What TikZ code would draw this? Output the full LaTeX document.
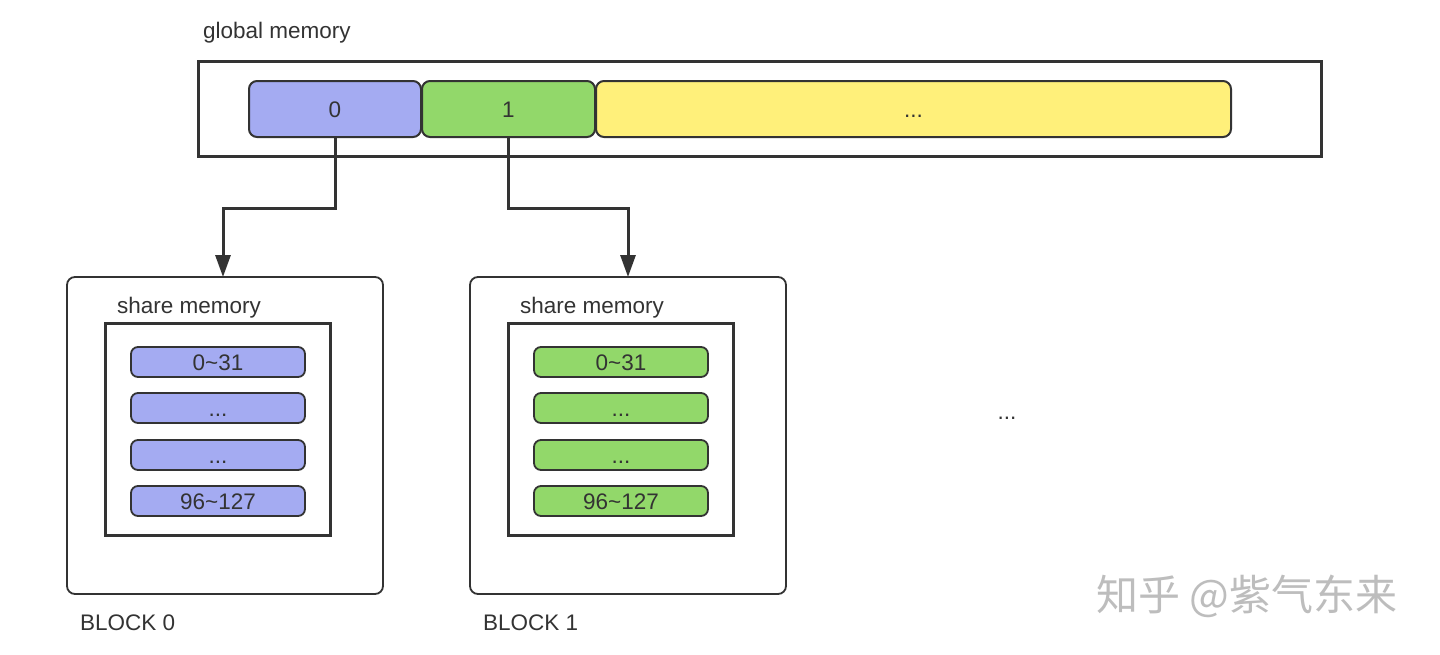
\documentclass[tikz,border=0pt]{standalone}
\usepackage{fontspec}
\setmainfont{Liberation Sans}
\newfontfamily\cjk{Noto Sans CJK SC}
\usetikzlibrary{arrows.meta}
\definecolor{ink}{HTML}{333333}
\definecolor{blueF}{HTML}{A4ABF2}
\definecolor{greenF}{HTML}{92D86A}
\definecolor{yellowF}{HTML}{FFF07A}
\definecolor{wm}{HTML}{BDBDBD}
\tikzset{
  txt/.style={text=ink, font=\fontsize{22.5}{26}\selectfont, inner sep=0pt},
  fixbase/.style={text height=20pt, text depth=4pt},
  cell/.style={draw=ink, line width=2pt, rounded corners=8pt, minimum height=56pt, inner sep=0pt, txt, fixbase},
  bar/.style={draw=ink, line width=1.8pt, rounded corners=7pt, minimum width=174pt, minimum height=30pt, inner sep=0pt, txt, fixbase},
  frame/.style={draw=ink, line width=3pt},
  blockbox/.style={draw=ink, line width=1.8pt, rounded corners=8pt},
  conn/.style={draw=ink, line width=3pt, -{Triangle[length=22pt,width=15pt]}},
}
\begin{document}
\begin{tikzpicture}[x=1pt,y=-1pt]
\useasboundingbox[fill=white] (0,0) rectangle (1440,654);
% global memory
\node[txt, anchor=base west] (gtitle) at (203,38) {global memory};
\draw[frame] (198,61) rectangle (1321,156);
\node[cell, fill=blueF, minimum width=172pt] (g0) at (335,109) {0};
\node[cell, fill=greenF, minimum width=173pt] (g1) at (508.5,109) {1};
\node[cell, fill=yellowF, minimum width=635pt] (g2) at (913.5,109) {...};
% blocks
\foreach \dx/\col/\n in {0/blueF/0, 403/greenF/1}{
  \begin{scope}[xshift=\dx pt]
    \draw[blockbox] (67,277) rectangle (383,594);
    \node[txt, anchor=base west] (sm\n) at (117,313) {share memory};
    \draw[frame] (105,323) rectangle (330,535);
    \node[bar, fill=\col] (b\n a) at (218,362) {0\textasciitilde 31};
    \node[bar, fill=\col] (b\n b) at (218,408) {...};
    \node[bar, fill=\col] (b\n c) at (218,455) {...};
    \node[bar, fill=\col] (b\n d) at (218,501) {96\textasciitilde 127};
    \node[txt, anchor=base west] (bl\n) at (80,630) {BLOCK \n};
  \end{scope}
}
\coordinate (t0) at (223,277);
\coordinate (t1) at (628,277);
\draw[conn] (g0.south) -- ++(0,70) -| (t0);
\draw[conn] (g1.south) -- ++(0,70) -| (t1);
\node[txt, anchor=base] (dots) at (1007,419) {...};
\node[text=wm, font=\cjk\fontsize{42}{46}\selectfont, anchor=west, inner sep=0pt] (wmk) at (1096,596) {知乎 @紫气东来};
\end{tikzpicture}
\end{document}
